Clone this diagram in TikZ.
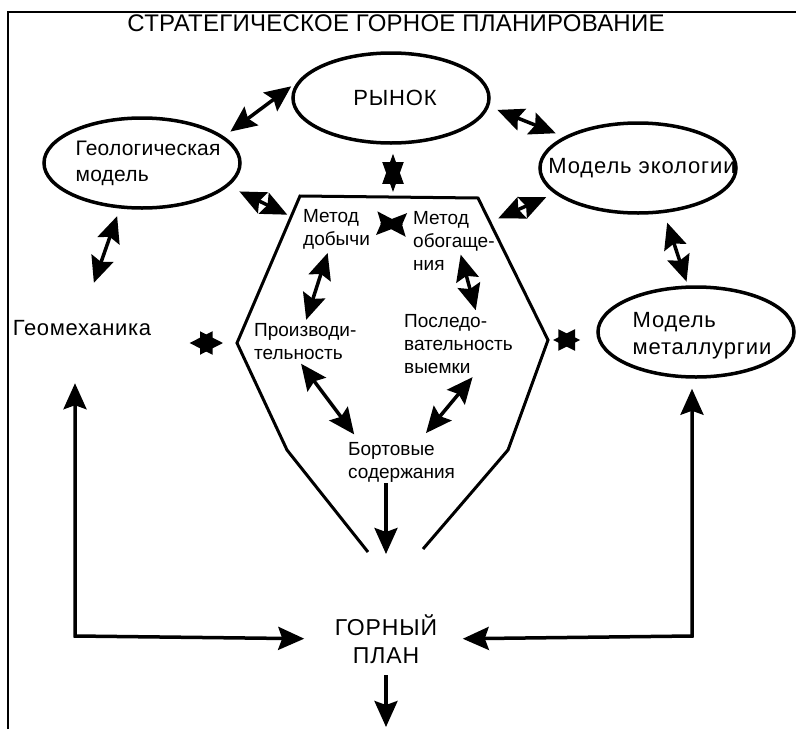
\documentclass[tikz,border=0pt]{standalone}
\usepackage{fontspec}
\setmainfont{Liberation Sans}
\usetikzlibrary{arrows.meta,shapes.geometric}

\tikzset{
  oval/.style={draw, ellipse, line width=3.5pt, minimum width=196pt, minimum height=90pt, inner sep=0pt},
  ovaltext/.style={font=\fontsize{22}{27}\selectfont\addfontfeatures{LetterSpace=4}, align=left},
  inner/.style={font=\fontsize{19}{23}\selectfont, align=left, inner sep=1pt, anchor=west},
  link/.style={<->, line width=3.5pt},
  star/.style={<->, >={Triangle[length=23pt,width=23pt]}, line width=2pt},
  feed/.style={->, line width=3.5pt},
}

\begin{document}
\begin{tikzpicture}[x=1pt,y=-1pt,>={Stealth[length=26pt,width=23pt,inset=4pt]}]
\useasboundingbox (0,0) rectangle (796,729);
\draw[line width=2.5pt] (8,729) -- (8,12) -- (796,12);
\node[font=\fontsize{24}{28}\selectfont\addfontfeatures{LetterSpace=1}] (title) at (396,23) {СТРАТЕГИЧЕСКОЕ ГОРНОЕ ПЛАНИРОВАНИЕ};

% models around the plan
\node[oval,label={[ovaltext,xshift=4pt]center:РЫНОК}] (rynok) at (391,98) {};
\node[oval,label={[ovaltext,font=\fontsize{21}{26}\selectfont\addfontfeatures{LetterSpace=1},xshift=6pt]center:{Геологическая\\модель}}] (geol) at (142,163) {};
\node[oval,label={[ovaltext,xshift=4pt]center:Модель экологии}] (eco) at (638,168) {};
\node[oval,label={[ovaltext,xshift=6pt,yshift=-4pt]center:{Модель\\металлургии}}] (metal) at (696,332) {};
\node[font=\fontsize{22}{26}\selectfont\addfontfeatures{LetterSpace=3}] (geomech) at (82,328) {Геомеханика};

% the open hexagon
\coordinate (hul) at (300,196);
\coordinate (hur) at (478,198);
\coordinate (hl) at (237,343);
\coordinate (hr) at (548,340);
\coordinate (hbl) at (287,450);
\coordinate (hbr) at (508,450);
\coordinate (hel) at (368,552);
\coordinate (her) at (423,549);
\draw[line width=3pt] (hel) -- (hbl) -- (hl) -- (hul) -- (hur) -- (hr) -- (hbr) -- (her);
\coordinate (htop) at (393,196);
\coordinate (hgl) at (290,216);
\coordinate (hgr) at (490,222);

\node[inner] (dobycha) at (302,229) {Метод\\добычи};
\node[inner] (obog) at (412,241) {Метод\\обогаще-\\ния};
\node[inner] (proizv) at (253,342) {Производи-\\тельность};
\node[inner] (posled) at (403,344) {Последо-\\вательность\\выемки};
\node[inner] (bort) at (347,462) {Бортовые\\содержания};
\node[font=\fontsize{23}{28}\selectfont\addfontfeatures{LetterSpace=4}, align=center] (plan) at (386,639) {ГОРНЫЙ\\ПЛАН};

% links between the models
\draw[link, shorten <=8pt, shorten >=8pt] (geol.18) -- (rynok.170);
\draw[link, shorten <=9pt, shorten >=9pt] (rynok.-5) -- (eco.157);
\draw[star, >={Triangle[length=30pt,width=21pt]}, shorten <=9pt, shorten >=4pt] (rynok.south -| htop) -- (htop);
\draw[link, shorten <=12pt, shorten >=3pt] (geol.-15) -- (hgl);
\draw[link, shorten <=9pt, shorten >=9pt] (eco.-163) -- (hgr);
\draw[link, shorten <=8pt, shorten >=36pt] (geol.-116) -- (geomech.north);
\draw[link, shorten <=10pt, shorten >=4pt] (eco.-60) -- (metal.100);
\draw[star, shorten <=35pt, shorten >=14pt] (geomech.east |- hl) -- (hl);
\draw[star, >={Triangle[length=22pt,width=21pt]}, shorten <=5pt, shorten >=16pt] (hr) -- (hr -| metal.west);

% links inside the plan
\draw[link, shorten <=9pt, shorten >=9pt] ([yshift=-15pt]dobycha.north east) -- ([yshift=-15pt]obog.north west);
\draw[link, shorten <=3pt, shorten >=3pt] ([xshift=-8pt]dobycha.south) -- (proizv.north);
\draw[link, shorten <=3pt, shorten >=3pt] ([xshift=6pt,yshift=20pt]obog.south) -- ([xshift=18pt]posled.north);
\draw[link, shorten <=3pt, shorten >=8pt] ([xshift=-6pt]proizv.south) -- ([xshift=12pt]bort.north west);
\draw[link, shorten <=3pt, shorten >=10pt] ([xshift=16pt]posled.south) -- ([xshift=18pt]bort.north);
\draw[feed, shorten >=57pt] (bort.south -| plan.north) -- (plan.north);

% into and out of the mining plan
\coordinate (lc) at (75,636);
\coordinate (rc) at (692,636);
\coordinate (out) at (386,727);
\draw[link, shorten <=44pt, shorten >=27pt] (geomech.south -| lc) -- (lc) -- (plan.west);
\draw[link, shorten <=10pt, shorten >=22pt] (metal.south -| rc) -- (rc) -- (plan.east);
\draw[feed, shorten <=8pt] (plan.south) -- (out);
\end{tikzpicture}
\end{document}
